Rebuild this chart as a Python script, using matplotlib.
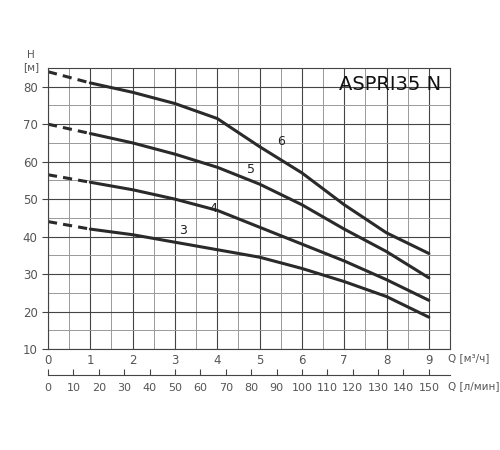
import matplotlib
matplotlib.use("Agg")
import matplotlib.pyplot as plt
import numpy as np

q = [0, 1, 2, 3, 4, 5, 6, 7, 8, 9]
h6 = [84, 81, 78.5, 75.5, 71.5, 64, 57, 48.5, 41, 35.5]
h5 = [70, 67.5, 65, 62, 58.5, 54, 48.5, 42, 36, 29]
h4 = [56.5, 54.5, 52.5, 50, 47, 42.5, 38, 33.5, 28.5, 23]
h3 = [44, 42, 40.5, 38.5, 36.5, 34.5, 31.5, 28, 24, 18.5]
labels = ["6", "5", "4", "3"]
label_pos = [(5.5, 65.5), (4.8, 58), (3.9, 47.5), (3.2, 41.5)]
xticks = list(range(10))
lmin_ticks = list(range(0, 160, 10))

fig = plt.figure(figsize=(5, 4.5), dpi=100)
ax = fig.add_axes([0.096, 0.2244, 0.804, 0.6246])
gc = "#555555"
ax.set_xlim(0, 9.5)
ax.set_ylim(10, 85)
ax.set_xticks(xticks)
ax.set_xticks(np.arange(0.5, 9.6, 1.0), minor=True)
ax.set_yticks(range(10, 81, 10))
ax.set_yticks(range(15, 86, 10), minor=True)
ax.grid(True, which="major", color="#444444", lw=0.8)
ax.grid(True, which="minor", color="#999999", lw=0.7)
ax.tick_params(which="both", length=0, colors=gc, labelsize=8.5)
ax.tick_params(axis="y", which="major", length=4, color="#444444")
ax.set_axisbelow(True)
for s in ax.spines.values():
    s.set_color("#444444")
for h in [h6, h5, h4, h3]:
    ax.plot(q[:2], h[:2], color="#2a2a2a", lw=2.2, ls=(0, (3, 2)))
    ax.plot(q[1:], h[1:], color="#2a2a2a", lw=2.2, solid_capstyle="round", solid_joinstyle="round")
for t, (x, y) in zip(labels, label_pos):
    ax.text(x, y, t, fontsize=9, color="#222222", ha="center", va="center")
ax.text(9.3, 80.5, "ASPRI35 N", fontsize=14, ha="right", va="center", color="#111111")
fig.text(0.062, 0.872, "H", fontsize=7.5, color=gc, ha="center")
fig.text(0.062, 0.845, "[м]", fontsize=7.5, color=gc, ha="center")
fig.text(0.895, 0.205, "Q [м³/ч]", fontsize=7.5, color=gc, ha="left", va="center")

ax2 = fig.add_axes([0.096, 0.1667, 0.804, 0.001])
ax2.set_xlim(0, 9.5 * 50 / 3)
ax2.set_xticks(lmin_ticks)
ax2.set_yticks([])
for k in ["left", "right", "bottom"]:
    ax2.spines[k].set_visible(False)
ax2.spines["top"].set_color("#444444")
ax2.xaxis.set_ticks_position("top")
ax2.tick_params(axis="x", direction="out", length=4, color="#444444", labeltop=False, labelbottom=True, colors=gc, labelsize=8, pad=2)
fig.text(0.895, 0.143, "Q [л/мин]", fontsize=7.5, color=gc, ha="left", va="center")
fig.savefig("out.png", dpi=100)
